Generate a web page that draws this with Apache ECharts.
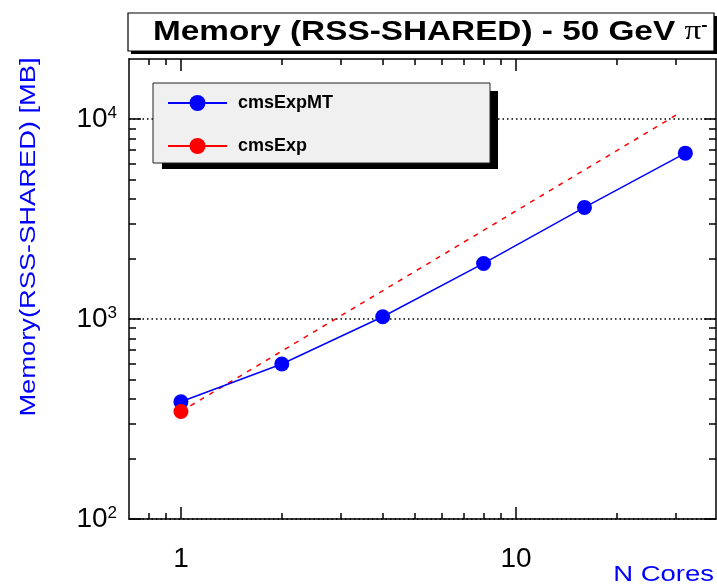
<!DOCTYPE html>
<html>
<head>
<meta charset="utf-8">
<script src="https://cdn.jsdelivr.net/npm/echarts@6/dist/echarts.min.js"></script>
<style>
html,body{margin:0;padding:0;background:#fff;}
#c{width:717px;height:587px;}
</style>
</head>
<body>
<div id="c"></div>
<script>
// ---- data ----
var nCores = [1, 2, 4, 8, 16, 32];
var memMT = [386, 596, 1027, 1898, 3620, 6760];
var expCores = [1];
var memExp = [345];
var expLineCores = [1, 30];
var expLineMem = [345, 10470];

// ---- axis ticks / labels ----
var xMajor = [1, 10];
var xMinor = [0.8, 0.9, 2, 3, 4, 5, 6, 7, 8, 9, 20, 30];
var yMajor = [100, 1000, 10000];
var yExp = ['2', '3', '4'];
var yMinor = [200, 300, 400, 500, 600, 700, 800, 900, 2000, 3000, 4000, 5000, 6000, 7000, 8000, 9000];

var titleText = 'Memory (RSS-SHARED) - 50 GeV ';
var yTitle = 'Memory(RSS-SHARED) [MB]';
var xTitle = 'N Cores';

var FONT = '"Liberation Sans", Arial, Helvetica, sans-serif';
var XMIN = 0.7, XMAX = 39.5, YMIN = 100, YMAX = 20000;
var black = {color: '#000', width: 1.5};

function pairs(a, b) { return a.map(function (v, i) { return [v, b[i]]; }); }

function xAx(pos, vals, len, line, labels) {
  return {
    type: 'log', logBase: 10, min: XMIN, max: XMAX, position: pos,
    axisLine: {show: line, lineStyle: black},
    axisTick: {show: true, inside: true, length: len, customValues: vals, lineStyle: black},
    axisLabel: labels ? {
      show: true, customValues: vals, margin: 26, color: '#000',
      fontFamily: FONT, fontSize: 28,
      formatter: function (v) { return String(Math.round(v)); }
    } : {show: false},
    splitLine: {show: false}, minorTick: {show: false}
  };
}
function yAx(pos, vals, len, line, labels, grid) {
  return {
    type: 'log', logBase: 10, min: YMIN, max: YMAX, position: pos,
    axisLine: {show: line, lineStyle: black},
    axisTick: {show: true, inside: true, length: len, customValues: vals, lineStyle: black},
    axisLabel: labels ? {
      show: true, customValues: vals, margin: 12, color: '#000',
      formatter: function (v) {
        var i = yMajor.indexOf(Math.round(v));
        return '{b|10}{s|' + (i >= 0 ? yExp[i] : '') + '}';
      },
      rich: {
        b: {fontFamily: FONT, fontSize: 28, color: '#000'},
        s: {fontFamily: FONT, fontSize: 17, color: '#000', verticalAlign: 'top', padding: [0, 0, 6, 0]}
      }
    } : {show: false},
    splitLine: grid ? {show: true, lineStyle: {color: '#000', width: 1.5, type: [1.5, 3]}} : {show: false},
    minorTick: {show: false}
  };
}

var chart = echarts.init(document.getElementById('c'), null, {renderer: 'canvas'});
chart.setOption({
  animation: false,
  backgroundColor: '#fff',
  grid: {left: 129, right: 1, top: 59, bottom: 68},
  xAxis: [
    xAx('bottom', xMajor, 12, true, true),
    xAx('bottom', xMinor, 6, false, false),
    xAx('top', xMajor, 12, true, false),
    xAx('top', xMinor, 6, false, false)
  ],
  yAxis: [
    yAx('left', yMajor, 12, true, true, true),
    yAx('left', yMinor, 7, false, false, false),
    yAx('right', yMajor, 12, true, false, false),
    yAx('right', yMinor, 7, false, false, false)
  ],
  legend: {
    data: ['cmsExpMT', 'cmsExp'],
    orient: 'vertical',
    left: 167, top: 93,
    itemWidth: 59, itemHeight: 20, itemGap: 23,
    padding: 0,
    z: 6,
    textStyle: {fontFamily: FONT, fontWeight: 'bold', fontSize: 18, color: '#000', padding: [0, 0, 0, 6], lineHeight: 20}
  },
  series: [
    {
      name: 'cmsExpMT', type: 'line', xAxisIndex: 0, yAxisIndex: 0,
      data: pairs(nCores, memMT),
      symbol: 'circle', symbolSize: 15,
      itemStyle: {color: '#0000ff'},
      lineStyle: {color: '#0000ff', width: 1.5},
      z: 3
    },
    {
      name: 'cmsExp scaling', type: 'line', xAxisIndex: 0, yAxisIndex: 0,
      data: pairs(expLineCores, expLineMem),
      symbol: 'none', showSymbol: false,
      itemStyle: {color: '#ff0000'},
      lineStyle: {color: '#ff0000', width: 1.5, type: [5, 6]},
      z: 2
    },
    {
      name: 'cmsExp', type: 'line', xAxisIndex: 0, yAxisIndex: 0,
      data: pairs(expCores, memExp),
      symbol: 'circle', symbolSize: 15,
      itemStyle: {color: '#ff0000'},
      lineStyle: {color: '#ff0000', width: 1.5},
      z: 4
    }
  ],
  graphic: [
    {type: 'rect', z: 1, shape: {x: 131, y: 16, width: 586, height: 38}, style: {fill: '#000'}},
    {type: 'rect', z: 1, shape: {x: 128, y: 13, width: 586, height: 38}, style: {fill: '#fff', stroke: '#000', lineWidth: 1.2}},
    {
      type: 'text', z: 2, x: 153, y: 32, scaleX: 1.19,
      style: {
        text: '{t|' + titleText + '}{p|π}{s|-}',
        textAlign: 'left', textVerticalAlign: 'middle',
        rich: {
          t: {fontFamily: FONT, fontWeight: 'bold', fontSize: 28, fill: '#000'},
          p: {fontFamily: '"Liberation Serif", serif', fontSize: 28, fill: '#000'},
          s: {fontFamily: FONT, fontSize: 16, fontWeight: 'bold', fill: '#000', verticalAlign: 'top'}
        }
      }
    },
    {type: 'rect', z: 3, shape: {x: 162, y: 91, width: 336, height: 78}, style: {fill: '#000'}},
    {type: 'rect', z: 3, shape: {x: 153, y: 83, width: 337, height: 80}, style: {fill: '#f0f0f0', stroke: '#222', lineWidth: 1}},
    {
      type: 'text', z: 5, x: 29, y: 237, rotation: Math.PI / 2, scaleX: 1.24,
      style: {text: yTitle, font: '22px ' + FONT, fill: '#0000ff', textAlign: 'center', textVerticalAlign: 'middle'}
    },
    {
      type: 'text', z: 5, x: 714, y: 575, scaleX: 1.25,
      style: {text: xTitle, font: '22px ' + FONT, fill: '#0000ff', textAlign: 'right', textVerticalAlign: 'middle'}
    }
  ]
});
</script>
</body>
</html>
